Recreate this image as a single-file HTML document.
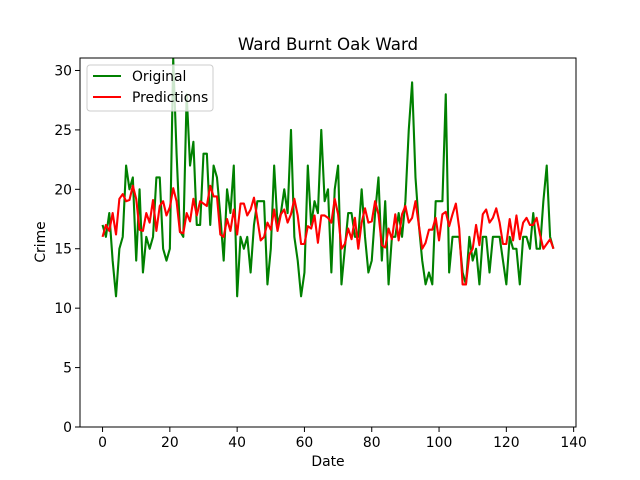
<!DOCTYPE html>
<html><head><meta charset="utf-8"><style>
body{margin:0;background:#fff}
svg{display:block;font-family:"DejaVu Sans","Liberation Sans",sans-serif}
</style></head><body>
<svg id="chart" width="640" height="480" viewBox="0 0 640 480">
<rect width="640" height="480" fill="#fff"/>
<text x="328" y="50" text-anchor="middle" font-size="16.7">Ward Burnt Oak Ward</text>
<g id="ticks"></g>
<g id="series"></g>
<rect x="80" y="58" width="496" height="369" fill="none" stroke="#000" stroke-width="1"/>
<text x="328" y="466" text-anchor="middle" font-size="13.9">Date</text>
<text x="0" y="0" transform="translate(45,242) rotate(-90)" text-anchor="middle" font-size="13.9">Crime</text>
<g>
<rect x="87" y="65" width="126" height="46" rx="3" fill="#fff" fill-opacity="0.8" stroke="#ccc"/>
<line x1="93" y1="76" x2="121" y2="76" stroke="green" stroke-width="2.1"/>
<text x="132" y="81" font-size="13.9">Original</text>
<line x1="93" y1="97" x2="121" y2="97" stroke="red" stroke-width="2.1"/>
<text x="132" y="102" font-size="13.9">Predictions</text>
</g>
</svg>
<script>
const original = [17,16,18,14,11,15,16,22,20,21,14,20,13,16,15,16,21,21,15,14,15,31,23,16.5,16,28,22,24,17,17,23,23,17,22,21,17.8,14,20,18,22,11,16,15,16,13,17,19,19,19,12,15,22,17,18,20,18,25,16,14,11,13,22,17,19,18,25,19,20,13,20,22,12,15,18,18,16,16,20,16,13,14,18,21,14,19,12,16,16,18,16,19,25,29,21,17,14,12,13,12,19,19,19,28,13,16,16,16,13,12,16,14,15,12,16,16,13,16,16,16,14,12,16,15,15,12,16,16,15,18,15,15,19,22,16,15];
const predictions = [16,17,16.5,18,16.2,19.2,19.6,19,19.1,20.3,19.2,16.6,16.5,18,17.2,19.1,16.5,18.6,19,17.8,18.5,20.1,19,16.4,16.3,18,17.3,19.2,17.8,19,18.8,18.6,20.3,19.4,19.4,16.2,16,17.5,16.5,18.3,16.2,18.8,18.8,17.8,18.3,19.3,17.5,15.7,16,17.2,16.6,18.3,16.5,17.9,18.3,17.2,17.9,19.2,17.8,15.4,15.4,16.9,16.7,17.8,15.5,17.8,17.8,17.6,17.2,19.2,17.9,15,15.4,16.7,15.8,17.6,15,17.2,18.4,17.2,17.3,19,17.9,15.3,15.1,16.7,15.8,17.9,15.7,17.9,18.6,17.2,17.6,19,17,15,15.5,16.6,16.6,17.6,15.7,17.9,18.1,16.9,17.9,18.8,16.7,12,12,14.5,15,17,15.3,17.9,18.3,17.2,17.6,18.4,17.2,15.4,15.4,17.5,15.7,17.8,15.8,17.2,17.6,17,17,17.6,16.2,15,15.4,15.8,15];
const xTicks = [0,20,40,60,80,100,120,140];
const yTicks = [0,5,10,15,20,25,30];

const NS='http://www.w3.org/2000/svg';
const X0=80,X1=576,Y0=427,Y1=58;
const xMin=-6.7,xMax=140.7,yMin=0,yMax=31.05;
function sx(v){return X0+(v-xMin)/(xMax-xMin)*(X1-X0);}
function sy(v){return Y0-(v-yMin)/(yMax-yMin)*(Y0-Y1);}
const tg=document.getElementById('ticks');
xTicks.forEach(t=>{
  const l=document.createElementNS(NS,'line');
  l.setAttribute('x1',sx(t));l.setAttribute('x2',sx(t));l.setAttribute('y1',Y0);l.setAttribute('y2',Y0+5);l.setAttribute('stroke','#000');
  
  
  tg.appendChild(l);
  const tx=document.createElementNS(NS,'text');
  tx.setAttribute('x',sx(t));tx.setAttribute('y',Y0+20);tx.setAttribute('text-anchor','middle');tx.setAttribute('font-size','13.9');
  tx.textContent=t;
  
  
  tg.appendChild(tx);
});
yTicks.forEach(t=>{
  const l=document.createElementNS(NS,'line');
  l.setAttribute('x1',X0-5);l.setAttribute('x2',X0);l.setAttribute('y1',sy(t));l.setAttribute('y2',sy(t));l.setAttribute('stroke','#000');
  
  
  tg.appendChild(l);
  const tx=document.createElementNS(NS,'text');
  tx.setAttribute('x',X0-8);tx.setAttribute('y',sy(t)+5);tx.setAttribute('text-anchor','end');tx.setAttribute('font-size','13.9');
  tx.textContent=t;
  
  
  tg.appendChild(tx);
});
const sg=document.getElementById('series');
function draw(arr,color,name){
  const p=document.createElementNS(NS,'polyline');
  p.setAttribute('points',arr.map((v,i)=>sx(i).toFixed(2)+','+sy(Math.min(v,yMax+0.3)).toFixed(2)).join(' '));
  p.setAttribute('fill','none');p.setAttribute('stroke',color);p.setAttribute('stroke-width','2.1');p.setAttribute('stroke-linejoin','round');
  
  
  sg.appendChild(p);
}
draw(original,'green','original-line');
draw(predictions,'red','predictions-line');
</script>
</body></html>
